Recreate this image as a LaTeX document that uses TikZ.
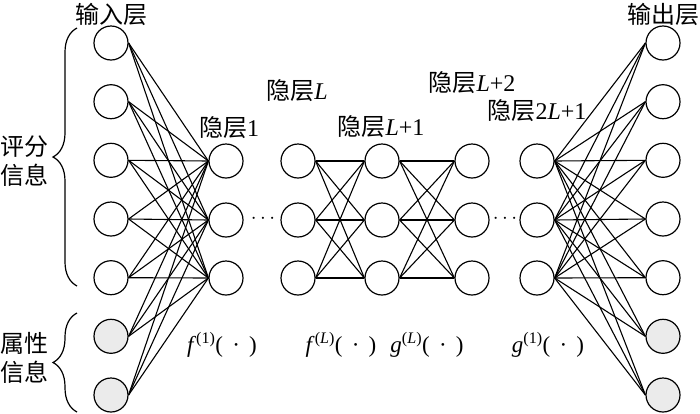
\documentclass[tikz,border=0pt]{standalone}
\usepackage{fontspec}
\setmainfont{Liberation Serif}
\newfontfamily\cjkfont{Noto Sans CJK SC}
\usetikzlibrary{positioning,decorations.pathreplacing}
\definecolor{attrGrey}{HTML}{EBEBEB}
\tikzset{
  neuron/.style={circle,draw,line width=1.2pt,minimum size=34pt,inner sep=0pt},
  attrneuron/.style={neuron,fill=attrGrey},
  link/.style={line width=1.1pt},
  layerlabel/.style={font=\fontsize{24}{29}\selectfont\cjkfont,inner sep=0pt},
  funclabel/.style={font=\fontsize{23}{26}\selectfont,inner sep=0pt},
  dotslabel/.style={font=\fontsize{22}{24}\selectfont,inner sep=0pt},
  bracegroup/.style={decorate,decoration={brace,amplitude=24pt},line width=1.2pt},
}
\newcommand{\argdot}{(\hspace{0.4em}·\hspace{0.4em})}

\begin{document}
\begin{tikzpicture}[x=1pt,y=-1pt]
  \useasboundingbox (0,0) rectangle (700,413);

  % input and output layers
  \foreach \i/\y in {1/43,2/101.7,3/160.3,4/219,5/277.7}{
    \node[neuron] (in\i) at (111,\y) {};
    \node[neuron] (out\i) at (663,\y) {};
  }
  \foreach \i/\y in {6/336.3,7/395}{
    \node[attrneuron] (in\i) at (111,\y) {};
    \node[attrneuron] (out\i) at (663,\y) {};
  }

  % hidden layers
  \foreach \j/\y in {1/161,2/220,3/278}{
    \node[neuron] (ha\j) at (226,\y) {};
    \node[neuron] (hb\j) at (298,\y) {};
    \node[neuron] (hc\j) at (382,\y) {};
    \node[neuron] (hd\j) at (472,\y) {};
    \node[neuron] (he\j) at (537,\y) {};
  }

  % connections
  \foreach \i in {1,...,7}
    \foreach \j in {1,2,3}{
      \draw[link] (in\i.east) -- (ha\j.west);
      \draw[link] (he\j.east) -- (out\i.west);
    }
  \foreach \i in {1,2,3}
    \foreach \j in {1,2,3}{
      \draw[link] (hb\i.east) -- (hc\j.west);
      \draw[link] (hc\i.east) -- (hd\j.west);
    }

  \node[dotslabel] (dotsA) at (263,219) {$\cdots$};
  \node[dotslabel] (dotsB) at (505,219) {$\cdots$};

  % layer names
  \node[layerlabel] (inname) at (111,14) {输入层};
  \node[layerlabel] (outname) at (663,14) {输出层};
  \node[layerlabel] (haname) at (229,128) {隐层{\rmfamily 1}};
  \node[layerlabel] (hbname) at (297,91) {隐层{\rmfamily\itshape L}};
  \node[layerlabel] (hcname) at (381,127) {隐层{\rmfamily\itshape L\upshape+1}};
  \node[layerlabel] (hdname) at (472,83) {隐层{\rmfamily\itshape L\upshape+2}};
  \node[layerlabel] (hename) at (537,111) {隐层{\rmfamily 2\itshape L\upshape+1}};

  % mapping functions
  \node[funclabel] (fone) at (222,345) {\textit{f}\textsuperscript{(1)}\argdot};
  \node[funclabel] (fL) at (341,345) {\textit{f}\textsuperscript{(\textit{L})}\argdot};
  \node[funclabel] (gL) at (427,345) {\textit{g}\textsuperscript{(\textit{L})}\argdot};
  \node[funclabel] (gone) at (548,345) {\textit{g}\textsuperscript{(1)}\argdot};

  % input groups
  \draw[bracegroup] (77,286) -- (77,28);
  \draw[bracegroup] (77,412) -- (77,313);
  \node[layerlabel,align=center] (rating) at (25,161) {评分\\信息};
  \node[layerlabel,align=center] (attr) at (25,358) {属性\\信息};
\end{tikzpicture}
\end{document}
